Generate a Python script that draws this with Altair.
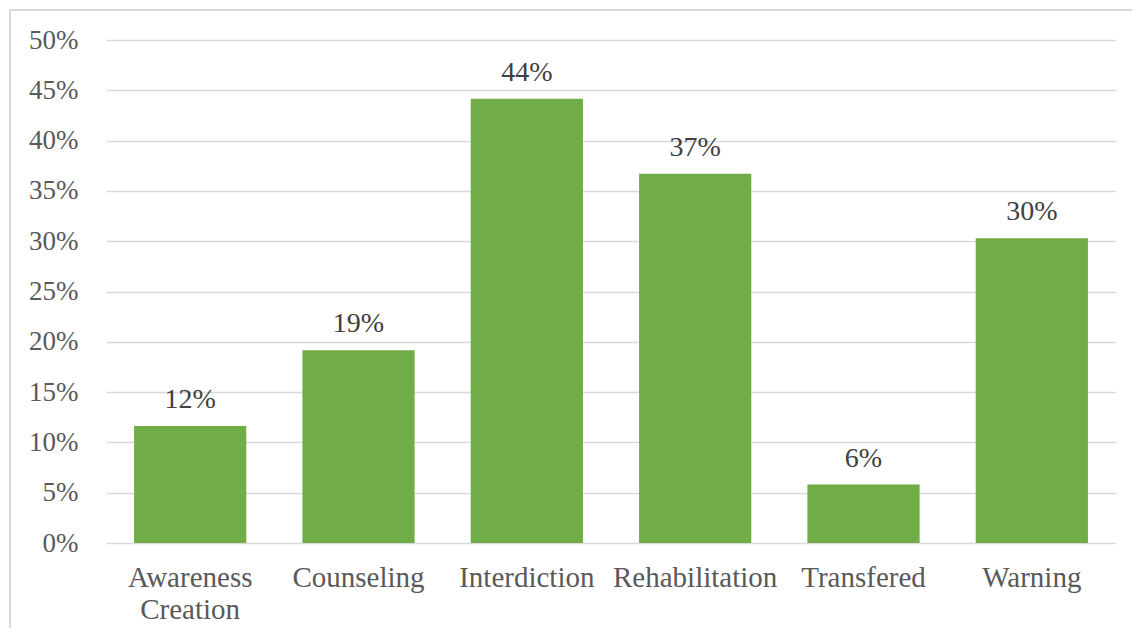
import altair as alt
import pandas as pd

categories = ["Awareness Creation", "Counseling", "Interdiction", "Rehabilitation", "Transfered", "Warning"]
values = [0.1164, 0.1915, 0.4415, 0.367, 0.0581, 0.303]
labels = ["12%", "19%", "44%", "37%", "6%", "30%"]

df = pd.DataFrame({"category": categories, "value": values, "label": labels})

FONT = "Times New Roman, Liberation Serif, DejaVu Serif, serif"

x_enc = alt.X(
    "category:N",
    sort=categories,
    scale=alt.Scale(paddingInner=1/3, paddingOuter=1/6),
    axis=alt.Axis(
        title=None, labelAngle=0, ticks=False, domain=False, grid=False,
        labelFontSize=29, labelColor="#595959",
        labelPadding=20, labelLineHeight=32, labelLimit=300,
        labelExpr="datum.label == 'Awareness Creation' ? ['Awareness', 'Creation'] : datum.label",
    ),
)

y_enc = alt.Y(
    "value:Q",
    scale=alt.Scale(domain=[0, 0.5], nice=False),
    axis=alt.Axis(
        title=None, format=".0%", values=[i * 0.05 for i in range(11)],
        ticks=False, domain=False, grid=True, gridColor="#D9D9D9", gridWidth=1.5,
        labelFontSize=27, labelColor="#595959", labelPadding=28,
    ),
)

bars = alt.Chart(df).mark_bar(color="#70AD47").encode(x=x_enc, y=y_enc)

text = alt.Chart(df).mark_text(
    fontSize=28, color="#404040", dy=-18, baseline="alphabetic"
).encode(x=alt.X("category:N", sort=categories), y="value:Q", text="label:N")

border_top = alt.Chart(df).mark_rule(stroke="#D9D9D9", strokeWidth=1.5, clip=False).encode(
    x=alt.value(-96), x2=alt.value(1100), y=alt.value(-30)
)
border_left = alt.Chart(df).mark_rule(stroke="#D9D9D9", strokeWidth=1.5, clip=False).encode(
    x=alt.value(-96), y=alt.value(-30), y2=alt.value(700)
)

chart = alt.layer(border_top, border_left, bars, text).properties(
    width=1010, height=503,
    padding={"left": 98, "top": 32, "right": 16, "bottom": 85},
    autosize=alt.AutoSizeParams(type="none"),
    background="white",
).configure(font=FONT).configure_view(strokeWidth=0, stroke=None).configure_axis(
    labelFont=FONT
).configure_text(font=FONT)

chart.save("out.html", embed_options={"renderer": "svg", "actions": False})
